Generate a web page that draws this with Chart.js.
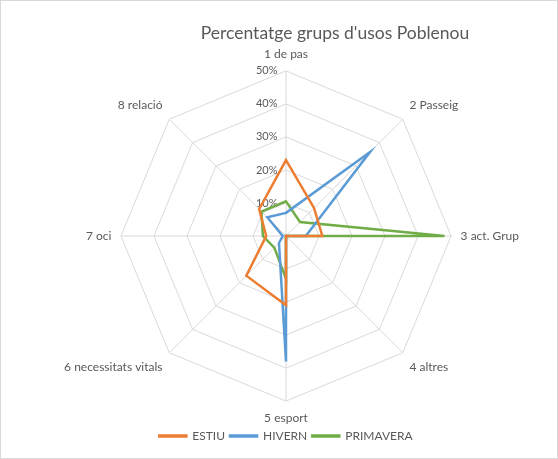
<!DOCTYPE html>
<html>
<head>
<meta charset="utf-8">
<script src="https://cdn.jsdelivr.net/npm/chart.js@4"></script>
<style>
  body { margin: 0; background: #fff; }
  #wrap { position: relative; width: 558px; height: 459px; }
  #frame { position: absolute; left: 0; top: 0; right: 0; bottom: 0; border: 1px solid #d9d9d9; pointer-events: none; }
</style>
</head>
<body>
<div id="wrap"><canvas id="radar"></canvas><div id="frame"></div></div>
<script>
// Percentatge grups d'usos Poblenou
const categories = ["1 de pas", "2 Passeig", "3 act. Grup", "4 altres", "5 esport", "6 necessitats vitals", "7 oci", "8 relació"];
const estiu = [23, 12, 11, 0, 21, 17, 6, 11.5];
const hivern = [7, 36, 6, 0, 38, 3, 1, 8];
const primavera = [10.5, 6, 48, 0, 13, 5, 7, 10.5];
const tickValues = [0, 10, 20, 30, 40, 50];
const titleText = "Percentatge grups d'usos Poblenou";

const grey = "#595959";
const font = "Lato";

// Excel puts the title a bit right of centre, so draw it ourselves
const titlePlugin = {
  id: "offsetTitle",
  afterDraw(chart) {
    const c = chart.ctx;
    c.save();
    c.font = "17.5px " + font;
    c.fillStyle = grey;
    c.textAlign = "center";
    c.textBaseline = "middle";
    c.fillText(titleText, 335, 33);
    c.restore();
  },
};

const ctx = document.getElementById("radar").getContext("2d");

const data = {
  labels: categories,
  datasets: [
    { label: "ESTIU", data: estiu, borderColor: "#ED7D31", backgroundColor: "#ED7D31" },
    { label: "HIVERN", data: hivern, borderColor: "#5B9BD5", backgroundColor: "#5B9BD5" },
    { label: "PRIMAVERA", data: primavera, borderColor: "#70AD47", backgroundColor: "#70AD47" },
  ],
};

new Chart(ctx, {
  type: "radar",
  data: data,
  plugins: [titlePlugin],
  options: {
    responsive: true,
    maintainAspectRatio: false,
    animation: false,
    layout: { padding: { top: 47, bottom: 7, left: 14, right: 0 } },
    elements: {
      line: { borderWidth: 2.5, fill: false, tension: 0 },
      point: { radius: 0, hoverRadius: 0 },
    },
    scales: {
      r: {
        min: 0,
        max: 50,
        afterBuildTicks: (scale) => {
          scale.ticks = tickValues.map((v) => ({ value: v }));
        },
        grid: { color: "#d9d9d9", lineWidth: 1 },
        angleLines: { color: "#d9d9d9", lineWidth: 1 },
        ticks: {
          showLabelBackdrop: false,
          color: grey,
          font: { family: font, size: 11 },
          // pad so the labels sit left of the vertical axis like Excel
          callback: (v) => v + "%\u2003\u2003\u2003\u2003\u2002",
        },
        pointLabels: {
          color: grey,
          font: { family: font, size: 12 },
          padding: 2,
        },
      },
    },
    plugins: {
      legend: {
        position: "bottom",
        labels: {
          color: grey,
          font: { family: font, size: 12 },
          boxWidth: 27,
          boxHeight: 1,
          padding: 5,
        },
      },
      tooltip: { enabled: false },
    },
  },
});
</script>
</body>
</html>
